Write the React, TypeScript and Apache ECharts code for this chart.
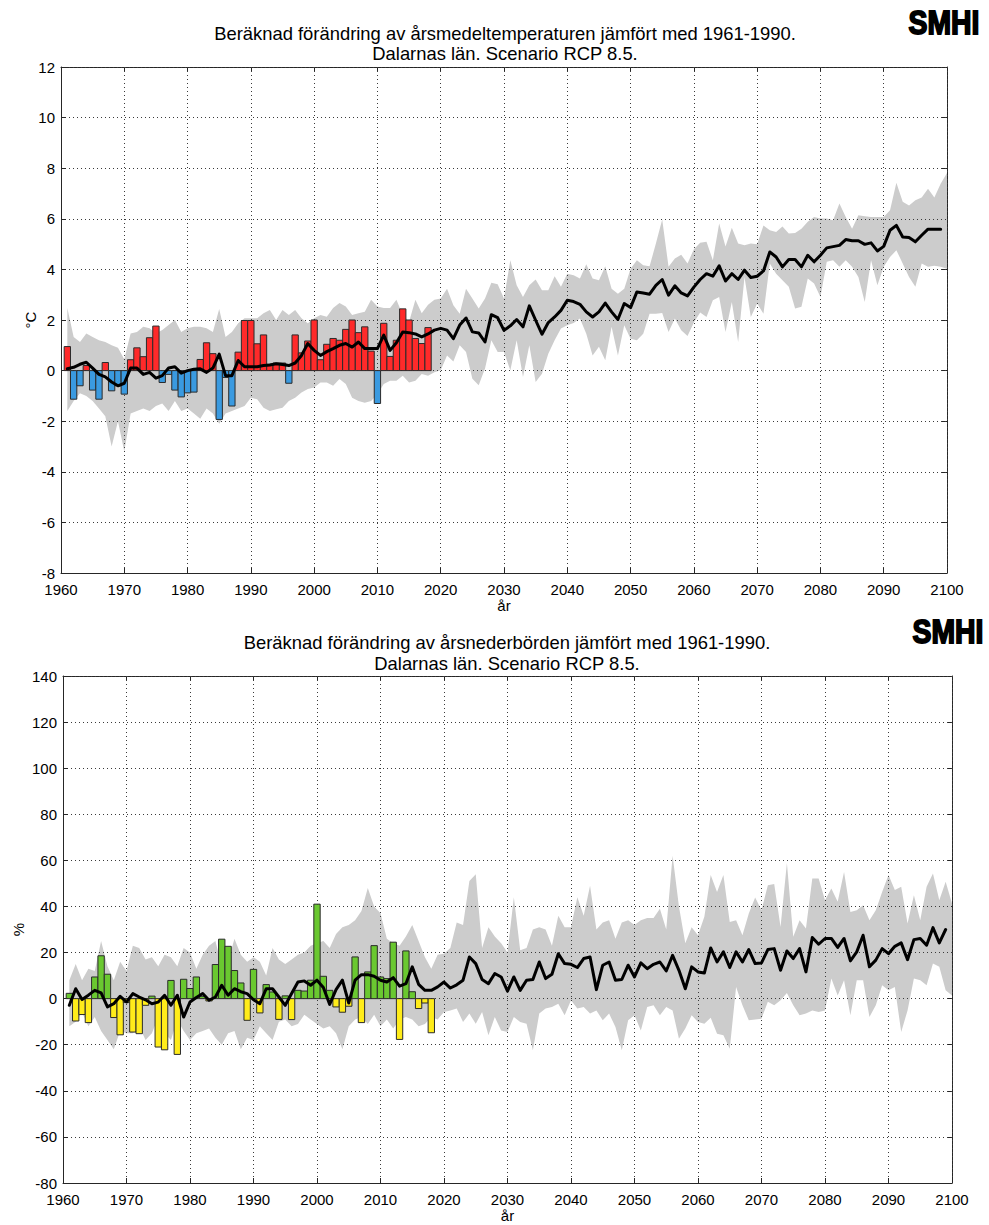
import React, { useEffect, useRef } from "react";
import * as echarts from "echarts";

// ---------- data ----------
const FIRST_YEAR = 1961;
const X_MIN = 1960;
const X_MAX = 2100;
const X_STEP = 10;

const TEMP_TITLE = ["Beräknad förändring av årsmedeltemperaturen jämfört med 1961-1990.", "Dalarnas län. Scenario RCP 8.5."];
const PREC_TITLE = ["Beräknad förändring av årsnederbörden jämfört med 1961-1990.", "Dalarnas län. Scenario RCP 8.5."];
const TEMP_Y = { min: -8, max: 12, step: 2, name: "°C" };
const PREC_Y = { min: -80, max: 140, step: 20, name: "%" };
const X_NAME = "år";
const LOGO = "SMHI";

// observed annual temperature anomaly 1961-2018 (°C)
const tempObs = [
  0.95, -1.13, -0.6, 0.2, -0.77, -1.13, 0.32, -0.8, -0.6, -0.93,
  0.43, 0.9, 0.55, 1.3, 1.76, -0.47, -0.15, -0.77, -1.04, -0.88,
  -0.85, 0.44, 1.1, 0.67, -1.93, -0.27, -1.4, 0.73, 1.98, 1.98,
  1.06, 1.41, 0.25, 0.3, 0.3, -0.5, 1.41, 0.7, 1.17, 2.0,
  0.43, 1.04, 1.27, 1.2, 1.63, 2.0, 1.5, 1.73, 0.77, -1.3,
  1.87, 0.56, 1.2, 2.44, 2.0, 1.27, 1.07, 1.7,
];

// ensemble median 1961-2099 (°C)
const tempMean = [
  0.07, 0.13, 0.25, 0.33, 0.1, -0.15, -0.25, -0.45, -0.6, -0.5,
  0.1, 0.1, -0.15, -0.07, -0.3, -0.2, 0.1, 0.15, -0.1, 0.0,
  0.05, 0.07, -0.07, 0.1, 0.65, -0.2, -0.2, 0.4, 0.15, 0.15,
  0.15, 0.2, 0.22, 0.27, 0.24, 0.2, 0.3, 0.6, 1.07, 0.8,
  0.6, 0.75, 0.87, 1.0, 1.07, 0.93, 1.13, 0.87, 0.87, 0.87,
  1.4, 0.8, 1.1, 1.53, 1.5, 1.45, 1.33, 1.45, 1.6, 1.67,
  1.6, 1.26, 1.8, 2.08, 1.53, 1.49, 1.13, 2.21, 2.09, 1.59,
  1.77, 2.02, 1.73, 2.56, 1.99, 1.44, 1.9, 2.12, 2.38, 2.78,
  2.73, 2.62, 2.32, 2.12, 2.32, 2.67, 2.32, 2.02, 2.65, 2.49,
  3.11, 3.07, 3.02, 3.37, 3.6, 2.98, 3.35, 3.07, 2.95, 3.3,
  3.6, 3.83, 3.73, 4.14, 3.54, 3.83, 3.6, 3.97, 3.68, 3.73,
  3.94, 4.69, 4.49, 4.1, 4.39, 4.39, 4.1, 4.56, 4.3, 4.56,
  4.85, 4.9, 4.95, 5.18, 5.13, 5.13, 4.99, 5.05, 4.73, 4.91,
  5.55, 5.74, 5.28, 5.26, 5.09, 5.35, 5.59, 5.59, 5.59,
];

// ensemble spread, upper edge 1961-2100 (°C)
const tempUpper = [
  2.47, 1.33, 1.13, 1.47, 1.33, 1.2, 1.13, 1.0, 0.9, 0.45,
  1.47, 1.53, 1.73, 1.67, 1.47, 1.6, 1.8, 2.0, 1.53, 1.67,
  1.73, 1.73, 1.67, 1.53, 2.43, 1.33, 1.53, 1.87, 2.07, 2.07,
  2.07, 2.27, 2.4, 2.0, 2.4, 2.2, 2.4, 2.07, 1.87, 2.07,
  2.2, 2.13, 2.47, 2.67, 2.53, 2.2, 2.27, 2.33, 2.8, 2.53,
  2.47, 2.47, 2.8, 2.2, 1.93, 2.8, 2.27, 2.6, 2.8, 2.85,
  3.24, 2.58, 2.25, 3.24, 2.85, 2.45, 2.85, 3.47, 3.41, 2.85,
  4.36, 3.37, 2.91, 3.37, 3.6, 3.18, 3.18, 3.73, 3.31, 3.83,
  3.77, 3.64, 4.2, 3.64, 3.57, 4.12, 3.24, 3.04, 3.24, 4.03,
  4.36, 4.16, 4.12, 5.02, 5.97, 4.1, 4.43, 4.58, 4.23, 4.8,
  5.05, 5.09, 4.36, 5.81, 4.91, 5.65, 5.02, 4.95, 5.02, 4.99,
  5.74, 5.55, 5.48, 5.7, 5.42, 5.44, 5.61, 5.88, 6.07, 6.01,
  6.01, 5.94, 6.6, 6.07, 5.61, 6.14, 6.1, 6.07, 6.07, 6.07,
  6.34, 7.42, 6.67, 6.53, 6.73, 6.84, 7.19, 6.84, 7.39, 7.81,
];

// ensemble spread, lower edge 1961-2100 (°C)
const tempLower = [
  -1.6, -1.2, -0.9, -1.0, -1.2, -1.5, -1.8, -3.0, -2.0, -3.2,
  -1.7, -1.6, -1.5, -1.6, -1.4, -1.3, -1.6, -1.2, -1.6, -1.5,
  -1.7, -1.9, -1.5, -1.7, -2.1, -1.7, -1.6, -1.5, -1.4, -1.07,
  -1.13, -1.47, -1.6, -1.53, -1.47, -1.2, -1.07, -0.87, -0.73, -0.67,
  -0.47, -0.47, -0.6, -0.33, -0.53, -1.07, -1.2, -1.27, -1.2, -0.93,
  -0.53, -0.4, -0.4, -0.2, -0.47, -0.4, -0.13, -0.2, -0.07, 0.01,
  0.6, 0.36, 1.0, 0.74, -0.32, -0.58, 0.08, 1.2, 0.74, 0.74,
  0.01, 1.2, -0.25, 1.0, -0.45, -0.12, 0.67, 1.2, 1.66, 1.79,
  1.88, 2.06, 1.46, 0.6, 0.94, 0.41, 1.73, 0.6, 1.79, 1.26,
  1.2, 1.46, 2.25, 2.25, 2.28, 1.53, 2.06, 1.59, 1.37, 1.9,
  2.3, 2.12, 2.78, 2.91, 1.53, 2.71, 1.13, 3.7, 2.12, 2.65,
  2.25, 4.23, 3.83, 3.57, 3.31, 2.45, 2.52, 3.64, 3.44, 2.91,
  4.3, 4.36, 4.1, 4.36, 4.1, 3.7, 2.71, 4.36, 3.37, 4.1,
  4.49, 4.76, 4.23, 3.7, 3.31, 4.23, 4.1, 4.14, 4.1, 4.03,
];

// observed annual precipitation anomaly 1961-2018 (%)
const precObs = [
  2.3, -9.7, -6.9, -10.4, 9.4, 18.6, 10.6, -8.2, -15.7, -1.7,
  -14.5, -15.2, -2.9, 1.1, -21.0, -22.2, 7.9, -24.2, 8.4, 4.4,
  9.4, 1.0, -1.0, 14.8, 25.8, 22.7, 12.2, 6.8, -9.4, 12.7,
  -6.2, 6.1, 2.9, -9.0, 1.2, -9.1, 3.6, 3.3, 8.0, 41.0,
  9.7, 3.6, -3.6, -5.9, -3.3, 18.1, -10.4, 11.6, 23.0, 9.4,
  8.7, 24.5, -17.7, 20.7, 3.0, -4.3, -1.9, -14.8,
];

// ensemble median 1961-2099 (%)
const precMean = [
  -2.9, 4.3, -0.4, 1.5, 3.6, 2.5, -3.6, -2.2, 1.0, -1.45,
  2.2, 0.7, -0.5, -2.2, -1.5, 1.45, -2.9, 1.45, -8.0, -1.45,
  0.5, 2.2, -0.7, 0.7, 5.8, 1.45, 4.3, 3.0, 2.2, -0.5,
  -2.2, 4.3, 4.3, 0.7, -2.9, 2.2, 7.2, 7.7, 5.8, 8.0,
  4.8, -2.5, 3.9, 8.0, -1.9, 8.0, 10.4, 10.4, 9.7, 8.0,
  7.2, 9.1, 5.4, 6.5, 13.8, 6.2, 3.6, 3.6, 5.1, 7.2,
  4.6, 6.0, 8.0, 18.1, 15.2, 8.3, 6.5, 10.9, 9.4, 3.3,
  9.4, 3.6, 8.0, 8.3, 15.9, 8.7, 10.6, 19.5, 15.2, 14.9,
  13.5, 17.4, 18.1, 3.9, 14.5, 15.9, 8.0, 8.3, 14.5, 9.4,
  15.5, 13.0, 14.9, 15.9, 12.0, 18.8, 12.3, 4.3, 13.8, 11.6,
  11.1, 22.0, 15.9, 20.3, 13.5, 20.3, 15.9, 21.3, 15.2, 15.5,
  21.3, 21.7, 12.3, 20.7, 17.4, 21.7, 11.6, 26.5, 23.6, 26.1,
  26.1, 22.2, 26.1, 16.4, 20.3, 27.5, 13.8, 16.7, 21.7, 19.5,
  22.7, 24.2, 16.9, 25.6, 26.1, 23.2, 30.8, 24.2, 30.0,
];

// ensemble spread, upper edge 1961-2100 (%)
const precUpper = [
  8, 15, 8, 13, 12, 25, 14, 8, 16, 12,
  23, 22, 17, 18, 14, 19, 18, 14, 22, 20,
  13, 19, 23, 25, 14, 16, 26, 19, 16, 18,
  16, 10, 22, 17, 15, 17, 19, 20, 23, 24,
  25, 22, 28, 31, 32, 34, 38, 48, 40, 37,
  26, 24, 23, 27, 32, 25, 18, 13, 19, 19.5,
  22, 33, 32, 51, 54, 22, 31, 27, 24, 20,
  44, 21, 22, 30, 31, 30, 23, 36, 31, 31,
  44, 36, 49, 30, 33, 34, 26, 33, 34, 32,
  34, 35, 35, 39, 30, 62, 40, 24, 31, 27.5,
  35.5, 53.6, 46.3, 53.6, 33.3, 34.0, 27.5, 36.9, 43.9, 38.4,
  49.2, 49.7, 31.1, 58.9, 26.8, 34.0, 30.4, 52.1, 52.1, 42.7,
  47.8, 42.0, 55.0, 37.6, 38.4, 40.5, 34.0, 38.4, 46.3, 53.6,
  47.1, 48.5, 32.6, 44.9, 34.0, 48.5, 54.3, 42.7, 50.7, 41.3,
];

// ensemble spread, lower edge 1961-2100 (%)
const precLower = [
  -12, -10, -6, -12, -8, -14, -18, -22, -14, -15,
  -15, -12, -18, -15, -8, -15, -18, -9, -14, -18,
  -15, -14, -13, -17, -20, -15, -14, -22, -17, -18,
  -12, -15, -18, -10, -9, -12, -11, -7, -9, -11,
  -13, -12, -15, -22, -12, -9, -8, -11, -7, -12,
  -9, -13, -9, -8, -9, -12, -11, -8, -9, -5.8,
  -5.1, -4.3, -10.1, -6.5, -10.9, -5.8, -15.9, -8.0, -13.8, -14.5,
  -8.0, -10.1, -10.9, -22.4, -6.5, -4.3, -3.6, -2.2, -7.2, -0.7,
  -4.3, -3.6, -6.5, -5.1, -9.4, -6.5, -12.3, -22.4, -9.4, -7.2,
  -13.8, -3.6, -2.9, -7.2, -3.6, -5.1, -17.4, -13.0, -7.2, -10.1,
  -10.9, -8.3, -15.2, -15.9, -21.7, 5.1, -2.9, -9.4, -9.1, -8.7,
  -1.4, -2.9, -0.7, 2.5, -2.9, -7.2, -6.5, -5.1, -5.8, -5.1,
  8.7, 1.4, 8.0, -7.2, 8.0, 8.0, -8.0, -2.9, 5.8, 3.6,
  5.1, -14.5, -5.1, 8.7, 8.0, 5.8, 15.2, 13.8, 3.6, 1.4,
];

// ---------- helpers ----------
const toPairs = (arr: number[]) => arr.map((v, i) => [FIRST_YEAR + i, v]);
const bandRows = (up: number[], lo: number[]) => up.map((v, i) => [FIRST_YEAR + i, lo[i], v]);

const FONT = "'Liberation Sans', Arial, Helvetica, sans-serif";
const AXIS_COLOR = "#262626";

function barRender(pos: string, neg: string) {
  return (params: any, api: any) => {
    const x = api.value(0);
    const y = api.value(1);
    const a = api.coord([x - 0.5, 0]);
    const b = api.coord([x + 0.5, y]);
    return {
      type: "rect",
      shape: { x: a[0], y: Math.min(a[1], b[1]), width: b[0] - a[0], height: Math.abs(b[1] - a[1]) },
      style: { fill: y >= 0 ? pos : neg, stroke: "#2b2b2b", lineWidth: 1 },
    };
  };
}

function bandRender(up: number[], lo: number[]) {
  return (params: any, api: any) => {
    if (params.dataIndex !== 0) return null;
    const top = up.map((v, i) => api.coord([FIRST_YEAR + i, v]));
    const bottom = lo.map((v, i) => api.coord([FIRST_YEAR + i, v])).reverse();
    return {
      type: "polygon",
      shape: { points: [...top, ...bottom] },
      style: { fill: "#cccccc", stroke: "none" },
    };
  };
}

function xAxes(grid: number) {
  const base = {
    gridIndex: grid,
    type: "value",
    min: X_MIN,
    max: X_MAX,
    interval: X_STEP,
    axisLine: { show: true, onZero: false, lineStyle: { color: AXIS_COLOR, width: 1 } },
    axisTick: { show: true, inside: true, length: 5, lineStyle: { color: AXIS_COLOR } },
  };
  return [
    {
      ...base,
      position: "bottom",
      z: 2,
      axisLabel: { color: "#000", fontSize: 15, margin: 9, fontFamily: FONT, formatter: (v: number) => String(v) },
      splitLine: { show: true, lineStyle: { color: "#3a3a3a", width: 1, type: [1, 3] } },
      name: X_NAME,
      nameLocation: "middle",
      nameGap: 25,
      nameMoveOverlap: false,
      nameTextStyle: { color: "#000", fontSize: 15, fontFamily: FONT },
    },
    { ...base, position: "top", axisLabel: { show: false }, splitLine: { show: false } },
  ];
}

function yAxes(grid: number, cfg: { min: number; max: number; step: number; name: string }, nameGap: number) {
  const base = {
    gridIndex: grid,
    type: "value",
    min: cfg.min,
    max: cfg.max,
    interval: cfg.step,
    axisLine: { show: true, onZero: false, lineStyle: { color: AXIS_COLOR, width: 1 } },
    axisTick: { show: true, inside: true, length: 5, lineStyle: { color: AXIS_COLOR } },
  };
  return [
    {
      ...base,
      position: "left",
      z: 2,
      axisLabel: { color: "#000", fontSize: 15, margin: 6, fontFamily: FONT, formatter: (v: number) => String(v) },
      splitLine: { show: true, lineStyle: { color: "#3a3a3a", width: 1, type: [1, 3] } },
      name: cfg.name,
      nameLocation: "middle",
      nameGap,
      nameMoveOverlap: false,
      nameTextStyle: { color: "#000", fontSize: 15, fontFamily: FONT },
    },
    { ...base, position: "right", axisLabel: { show: false }, splitLine: { show: false } },
  ];
}

function panelSeries(
  xi: number,
  yi: number,
  obs: number[],
  mean: number[],
  up: number[],
  lo: number[],
  pos: string,
  neg: string
) {
  return [
    {
      type: "custom",
      xAxisIndex: xi,
      yAxisIndex: yi,
      data: bandRows(up, lo),
      renderItem: bandRender(up, lo),
      encode: { x: 0, y: [1, 2] },
      silent: true,
      z: 1,
    },
    {
      type: "custom",
      xAxisIndex: xi,
      yAxisIndex: yi,
      data: toPairs(obs),
      renderItem: barRender(pos, neg),
      encode: { x: 0, y: 1 },
      z: 3,
    },
    {
      type: "line",
      xAxisIndex: xi,
      yAxisIndex: yi,
      data: toPairs(mean),
      symbol: "none",
      lineStyle: { color: "#000", width: 3, join: "round", cap: "round" },
      z: 4,
    },
  ];
}

function titleTexts(lines: string[], cx: number, y1: number, y2: number) {
  return [
    { type: "text", x: cx, y: y1, style: { text: lines[0], fill: "#000", font: `18.4px ${FONT}`, textAlign: "center", textVerticalAlign: "middle" } },
    { type: "text", x: cx, y: y2, style: { text: lines[1], fill: "#000", font: `18.4px ${FONT}`, textAlign: "center", textVerticalAlign: "middle" } },
  ];
}

function logo(cx: number, cy: number) {
  return {
    type: "text",
    x: cx,
    y: cy,
    scaleX: 0.86,
    style: {
      text: LOGO,
      fill: "#000",
      stroke: "#000",
      lineWidth: 1.8,
      font: `bold 33px ${FONT}`,
      textAlign: "center",
      textVerticalAlign: "middle",
    },
  };
}

export default function App() {
  const ref = useRef<HTMLDivElement>(null);

  useEffect(() => {
    document.body.style.margin = "0";
    if (!ref.current) return;
    const chart = echarts.init(ref.current, undefined, { renderer: "svg" });
    const option: any = {
      animation: false,
      backgroundColor: "#fff",
      textStyle: { fontFamily: FONT },
      grid: [
        { left: 61, top: 67, width: 886, height: 506, show: false },
        { left: 63, top: 676, width: 889, height: 507, show: false },
      ],
      xAxis: [...xAxes(0), ...xAxes(1)],
      yAxis: [...yAxes(0, TEMP_Y, 23), ...yAxes(1, PREC_Y, 37)],
      series: [
        ...panelSeries(0, 0, tempObs, tempMean, tempUpper, tempLower, "#ff2a2a", "#3a9ae0"),
        ...panelSeries(2, 2, precObs, precMean, precUpper, precLower, "#6ac830", "#ffec1a"),
      ],
      graphic: [
        ...titleTexts(TEMP_TITLE, 505, 33, 53),
        ...titleTexts(PREC_TITLE, 507, 642, 663),
        logo(944, 23),
        logo(948, 632),
      ],
    };
    chart.setOption(option);
    return () => chart.dispose();
  }, []);

  return <div ref={ref} style={{ position: "absolute", left: 0, top: 0, width: 989, height: 1225 }} />;
}
